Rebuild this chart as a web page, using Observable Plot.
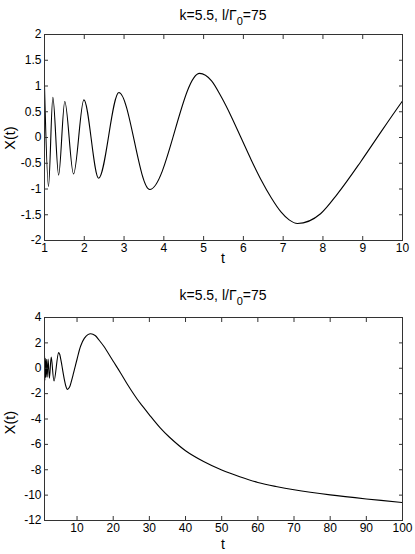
<!DOCTYPE html>
<html><head><meta charset="utf-8">
<script src="https://cdn.jsdelivr.net/npm/d3@7"></script>
<script src="https://cdn.jsdelivr.net/npm/@observablehq/plot@0.6"></script>
<style>
body{margin:0;background:#fff;}
#chart{width:415px;}
svg{display:block;}
</style></head><body><div id="chart"></div>
<script>
// values
const tValues = [1.00, 1.10, 1.21, 1.355, 1.51, 1.73, 1.99, 2.36, 2.87, 3.645, 4.90, 5.20, 5.45, 5.70, 5.95, 6.20, 6.45, 6.70, 6.95, 7.15, 7.36, 7.94, 8.37, 8.95, 9.46, 10.0, 11, 12, 13, 13.8, 15, 16, 17.35, 20, 22, 24, 26.6, 28, 30, 33, 35.5, 40, 45, 50, 55, 60, 65, 70, 80, 90, 100];
const xValues = [1.00, -0.95, 0.78, -0.73, 0.70, -0.71, 0.73, -0.79, 0.875, -1.01, 1.245, 1.10, 0.78, 0.40, -0.02, -0.44, -0.83, -1.17, -1.45, -1.60, -1.67, -1.48, -1.09, -0.47, 0.11, 0.71, 1.75, 2.35, 2.65, 2.72, 2.58, 2.25, 1.75, 0.55, -0.35, -1.30, -2.42, -2.94, -3.67, -4.70, -5.42, -6.50, -7.35, -8.02, -8.55, -9.00, -9.32, -9.58, -9.98, -10.30, -10.58];

const topXTicks = [1, 2, 3, 4, 5, 6, 7, 8, 9, 10];
const topYTicks = [-2, -1.5, -1, -0.5, 0, 0.5, 1, 1.5, 2];
const botXTicks = [10, 20, 30, 40, 50, 60, 70, 80, 90, 100];
const botYTicks = [-12, -10, -8, -6, -4, -2, 0, 2, 4];

const titleMain = "k=5.5, l/Γ";
const titleSub = "0";
const titleTail = "=75";
const xLabel = "t";
const yLabel = "X(t)";

const rows = tValues.map((t, i) => ({t, x: xValues[i]}));
const font = "'Liberation Sans', Arial, Helvetica, sans-serif";
const W = 415, H = 277, ML = 44, MR = 13;
const TICK = 4;

function panel({domainX, domainY, ticksX, ticksY, data, curve, marginTop, marginBottom, titleY, xLabelY, yLabelShift}) {
  const none = () => "";
  const plot = Plot.plot({
    width: W, height: H, marginTop, marginBottom, marginLeft: ML, marginRight: MR,
    style: {fontFamily: font, fontSize: "12px", background: "white", color: "black"},
    x: {domain: domainX},
    y: {domain: domainY},
    marks: [
      Plot.line(data, {x: "t", y: "x", curve, stroke: "black", strokeWidth: 1.1, clip: true}),
      // inward ticks on all four sides
      Plot.axisX(ticksX, {anchor: "bottom", tickSize: TICK, dy: -TICK, tickFormat: none, label: null, stroke: "#333"}),
      Plot.axisX(ticksX, {anchor: "top", tickSize: TICK, dy: TICK, tickFormat: none, label: null, stroke: "#333"}),
      Plot.axisY(ticksY, {anchor: "left", tickSize: TICK, dx: TICK, tickFormat: none, label: null, stroke: "#333"}),
      Plot.axisY(ticksY, {anchor: "right", tickSize: TICK, dx: -TICK, tickFormat: none, label: null, stroke: "#333"}),
      // tick labels
      Plot.axisX(ticksX, {anchor: "bottom", tickSize: 0, tickPadding: 3, tickFormat: d => String(d), label: null}),
      Plot.axisY(ticksY, {anchor: "left", tickSize: 0, tickPadding: 3, tickFormat: d => String(d), label: null}),
      Plot.frame({stroke: "#333", strokeWidth: 1})
    ]
  });
  const svg = d3.select(plot);
  const cx = (ML + (W - MR)) / 2;
  const t = svg.append("text").attr("x", cx).attr("y", titleY)
    .attr("text-anchor", "middle").style("font-family", font).style("font-size", "14px").attr("fill", "black");
  t.append("tspan").text(titleMain);
  t.append("tspan").attr("dy", 5).style("font-size", "11px").text(titleSub);
  t.append("tspan").attr("dy", -5).text(titleTail);
  svg.append("text").attr("x", cx).attr("y", xLabelY).attr("text-anchor", "middle")
    .style("font-family", font).style("font-size", "14px").attr("fill", "black").text(xLabel);
  const cy = (marginTop + (H - marginBottom)) / 2 + yLabelShift;
  svg.append("text").attr("transform", `translate(15,${cy}) rotate(-90)`).attr("text-anchor", "middle")
    .style("font-family", font).style("font-size", "14.5px").attr("fill", "black").text(yLabel);
  return plot;
}

const chart = document.getElementById("chart");
chart.appendChild(panel({
  domainX: [1, 10], domainY: [-2, 2], ticksX: topXTicks, ticksY: topYTicks,
  data: rows.filter(d => d.t <= 11), curve: "monotone-x",
  marginTop: 34, marginBottom: 37, titleY: 20, xLabelY: 263, yLabelShift: 1
}));
chart.appendChild(panel({
  domainX: [1, 100], domainY: [-12, 4], ticksX: botXTicks, ticksY: botYTicks,
  data: rows, curve: "catmull-rom",
  marginTop: 40, marginBottom: 34, titleY: 23, xLabelY: 272, yLabelShift: 4
}));
</script></body></html>
